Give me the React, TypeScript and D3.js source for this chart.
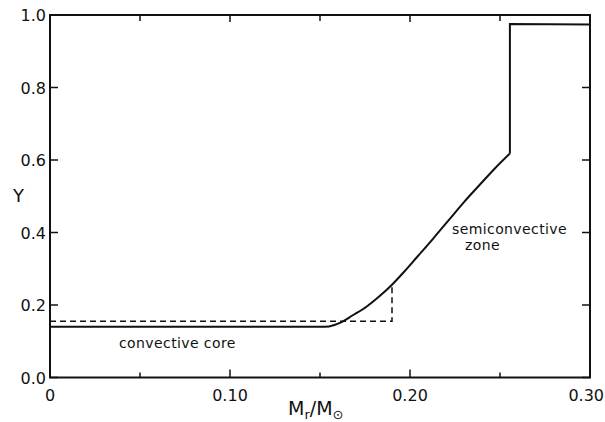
import * as d3 from "d3";

const WIDTH = 605;
const HEIGHT = 422;

// Solid curve: helium abundance Y vs. mass fraction (smooth part)
const solidX = [0, 0.15, 0.155, 0.158, 0.162, 0.168, 0.176, 0.183, 0.19, 0.197, 0.2037, 0.213, 0.222, 0.23, 0.239, 0.247, 0.2555];
const solidY = [0.14, 0.14, 0.141, 0.145, 0.153, 0.171, 0.196, 0.224, 0.256, 0.293, 0.331, 0.384, 0.437, 0.484, 0.533, 0.576, 0.618];
// Step to the envelope value
const stepX = [0.2555, 0.2555, 0.3];
const stepY = [0.618, 0.975, 0.974];

// Dashed curve: convective core step
const dashX = [0, 0.19, 0.19];
const dashY = [0.155, 0.155, 0.258];

const xTicks = [0, 0.1, 0.2, 0.3];
const xTickLabels = ["0", "0.10", "0.20", "0.30"];
const xMinorTicks = [0.05, 0.15, 0.25];
const yTicks = [0, 0.2, 0.4, 0.6, 0.8, 1.0];
const yTickLabels = ["0.0", "0.2", "0.4", "0.6", "0.8", "1.0"];

const margin = { top: 15, right: 15, bottom: 44.5, left: 50 };
const width = WIDTH - margin.left - margin.right;
const height = HEIGHT - margin.top - margin.bottom;

const FONT = "'DejaVu Sans', Verdana, sans-serif";
const INK = "#111";

function createD3(el: SVGSVGElement | null) {
  if (!el) return;
  const root = d3.select(el);
  root.selectAll("*").remove();

  const x = d3.scaleLinear().domain([0, 0.3]).range([0, width]);
  const y = d3.scaleLinear().domain([0, 1]).range([height, 0]);

  const g = root
    .append("g")
    .attr("transform", `translate(${margin.left},${margin.top})`);

  // frame
  g.append("rect")
    .attr("width", width)
    .attr("height", height)
    .attr("fill", "none")
    .attr("stroke", INK)
    .attr("stroke-width", 2);

  // ticks on all four sides, pointing inward
  const tickLine = (x1: number, y1: number, x2: number, y2: number) =>
    g.append("line")
      .attr("x1", x1).attr("y1", y1).attr("x2", x2).attr("y2", y2)
      .attr("stroke", INK).attr("stroke-width", 1.5);

  xTicks.forEach((t) => {
    tickLine(x(t), height, x(t), height - 8);
    tickLine(x(t), 0, x(t), 7);
  });
  xMinorTicks.forEach((t) => {
    tickLine(x(t), height, x(t), height - 5);
    tickLine(x(t), 0, x(t), 6);
  });
  yTicks.forEach((t) => {
    tickLine(0, y(t), 8, y(t));
    tickLine(width, y(t), width - 8, y(t));
  });

  // tick labels
  g.selectAll(".xl")
    .data(xTicks)
    .enter()
    .append("text")
    .attr("x", (d, i) => (i === xTicks.length - 1 ? width + 14 : x(d)))
    .attr("y", height + 23)
    .attr("text-anchor", (_, i) => (i === xTicks.length - 1 ? "end" : "middle"))
    .attr("font-family", FONT)
    .attr("font-size", 16)
    .attr("fill", INK)
    .text((_, i) => xTickLabels[i]);

  g.selectAll(".yl")
    .data(yTicks)
    .enter()
    .append("text")
    .attr("x", -4)
    .attr("y", (d) => y(d) + 6)
    .attr("text-anchor", "end")
    .attr("font-family", FONT)
    .attr("font-size", 16)
    .attr("fill", INK)
    .text((_, i) => yTickLabels[i]);

  // axis titles
  g.append("text")
    .attr("x", -37)
    .attr("y", y(0.5) + 6)
    .attr("font-family", FONT)
    .attr("font-size", 18)
    .attr("fill", INK)
    .text("Y");

  const xt = g
    .append("text")
    .attr("x", 238)
    .attr("y", height + 37)
    .attr("font-family", FONT)
    .attr("font-size", 19)
    .attr("fill", INK);
  xt.append("tspan").text("M");
  xt.append("tspan").attr("font-size", 13).attr("dy", 4).text("r");
  xt.append("tspan").attr("dy", -4).text("/M");
  xt.append("tspan").attr("font-size", 13).attr("dy", 4).text("⊙");

  // curves
  const smooth = d3
    .line<[number, number]>()
    .x((d) => x(d[0]))
    .y((d) => y(d[1]))
    .curve(d3.curveMonotoneX);

  const straight = d3
    .line<[number, number]>()
    .x((d) => x(d[0]))
    .y((d) => y(d[1]));

  const pairs = (xs: number[], ys: number[]) =>
    xs.map((v, i) => [v, ys[i]] as [number, number]);

  g.append("path")
    .datum(pairs(solidX, solidY))
    .attr("d", smooth)
    .attr("fill", "none")
    .attr("stroke", INK)
    .attr("stroke-width", 2);

  g.append("path")
    .datum(pairs(stepX, stepY))
    .attr("d", straight)
    .attr("fill", "none")
    .attr("stroke", INK)
    .attr("stroke-width", 2)
    .attr("stroke-linejoin", "miter");

  g.append("path")
    .datum(pairs(dashX, dashY))
    .attr("d", straight)
    .attr("fill", "none")
    .attr("stroke", INK)
    .attr("stroke-width", 1.5)
    .attr("stroke-dasharray", "6,4");

  // annotations
  const label = (tx: number, ty: number, s: string) =>
    g.append("text")
      .attr("x", tx - margin.left)
      .attr("y", ty - margin.top)
      .attr("font-family", FONT)
      .attr("font-size", 14)
      .attr("letter-spacing", 0.4)
      .attr("fill", INK)
      .text(s);

  label(119, 348, "convective core");
  label(452, 234, "semiconvective");
  label(465, 250, "zone");
}

export default function App() {
  return (
    <svg
      ref={createD3}
      width={WIDTH}
      height={HEIGHT}
      style={{ position: "absolute", left: 0, top: 0, background: "#fff" }}
    />
  );
}
